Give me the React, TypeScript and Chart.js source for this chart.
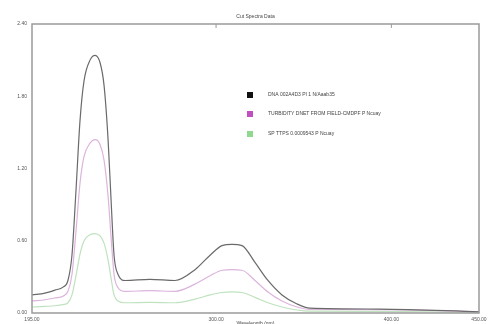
import React, { useEffect, useRef } from "react";
import { Chart, registerables } from "chart.js";

Chart.register(...registerables);

const TITLE = "Cut Spectra Data";
const X_TITLE = "Wavelength (nm)";
const X_MIN = 195;
const X_MAX = 450;
const X_TICKS = [195, 300, 400, 450];
const Y_TICKS = [0, 0.6, 1.2, 1.8, 2.4];

const SERIES_LABELS = [
  "DNA 002A4D3 PI 1 N/Aaab35",
  "TURBIDITY DNET FROM FIELD-CMDPF P Ncuay",
  "SP TTPS 0.0009543 P Ncuay",
];

const WAVELENGTHS = [
  195, 202.4, 208.1, 212.7, 215.5, 217.8, 220.1, 222.4, 224.7, 228.1, 231, 233.8,
  236.1, 238.4, 240.1, 241.8, 244.1, 248.1, 262.3, 276.6, 288, 296.6, 303.4, 309.1,
  314.8, 322.2, 329.6, 337.6, 346.2, 353.6, 393.5, 450,
];

const BLACK_VALUES = [
  0.15, 0.165, 0.19, 0.215, 0.27, 0.48, 1.02, 1.6, 1.93, 2.1, 2.14, 2.08, 1.89,
  1.44, 0.94, 0.48, 0.32, 0.27, 0.28, 0.27, 0.36, 0.48, 0.56, 0.57, 0.56, 0.42,
  0.27, 0.15, 0.075, 0.04, 0.033, 0.01,
];
const MAGENTA_VALUES = [
  0.1, 0.11, 0.125, 0.14, 0.18, 0.32, 0.68, 1.08, 1.3, 1.41, 1.44, 1.4, 1.27,
  0.97, 0.63, 0.32, 0.21, 0.18, 0.185, 0.18, 0.24, 0.31, 0.355, 0.36, 0.355, 0.27,
  0.175, 0.1, 0.05, 0.03, 0.028, 0.01,
];
const GREEN_VALUES = [
  0.05, 0.055, 0.06, 0.07, 0.085, 0.15, 0.31, 0.49, 0.6, 0.65, 0.66, 0.64, 0.58,
  0.44, 0.29, 0.15, 0.1, 0.085, 0.088, 0.085, 0.115, 0.15, 0.17, 0.175, 0.17, 0.13,
  0.085, 0.05, 0.025, 0.015, 0.013, 0.005,
];

const LINE_COLORS = ["#6a6a6a", "#dcb4dc", "#bfe2bf"];
const MARKER_COLORS = ["#111111", "#c050c0", "#90d890"];

const FONT = "Liberation Sans, Arial, sans-serif";

const decorPlugin = {
  id: "decor",
  afterDraw(chart: any) {
    const { ctx, chartArea } = chart;
    ctx.save();
    ctx.strokeStyle = "#9a9a9a";
    ctx.lineWidth = 1.5;
    ctx.strokeRect(chartArea.left, chartArea.top, chartArea.right - chartArea.left, chartArea.bottom - chartArea.top);
    const xs = chart.scales.x;
    ctx.lineWidth = 1;
    X_TICKS.slice(1, 3).forEach((t) => {
      const px = xs.getPixelForValue(t);
      ctx.beginPath();
      ctx.moveTo(px, chartArea.top);
      ctx.lineTo(px, chartArea.top + 4);
      ctx.stroke();
    });
    ctx.fillStyle = "#444";
    ctx.font = `5px ${FONT}`;
    ctx.textAlign = "center";
    ctx.textBaseline = "middle";
    ctx.fillText(TITLE, (chartArea.left + chartArea.right) / 2, 17);
    ctx.fillText(X_TITLE, (chartArea.left + chartArea.right) / 2, 324);
    ctx.textAlign = "left";
    const lx = 250;
    const ly = [95, 114, 134];
    chart.data.datasets.forEach((ds: any, i: number) => {
      ctx.fillStyle = MARKER_COLORS[i];
      ctx.fillRect(lx - 3, ly[i] - 3, 6, 6);
      ctx.fillStyle = "#444";
      ctx.font = `5px ${FONT}`;
      ctx.fillText(ds.label, 268, ly[i]);
    });
    ctx.restore();
  },
};

export default function App() {
  const ref = useRef<HTMLCanvasElement>(null);
  useEffect(() => {
    document.body.style.margin = "0";
    const mk = (vals: number[]) => WAVELENGTHS.map((x, i) => ({ x, y: vals[i] }));
    const common = { borderWidth: 1.2, pointRadius: 0, cubicInterpolationMode: "monotone" as const };
    const chart = new Chart(ref.current!, {
      type: "line",
      data: {
        datasets: [
          { label: SERIES_LABELS[0], data: mk(BLACK_VALUES), borderColor: LINE_COLORS[0], ...common },
          { label: SERIES_LABELS[1], data: mk(MAGENTA_VALUES), borderColor: LINE_COLORS[1], ...common },
          { label: SERIES_LABELS[2], data: mk(GREEN_VALUES), borderColor: LINE_COLORS[2], ...common },
        ],
      },
      options: {
        animation: false,
        responsive: false,
        layout: { padding: { top: 24, right: 11, left: 0, bottom: 0 } },
        plugins: { legend: { display: false }, title: { display: false }, tooltip: { enabled: false } },
        scales: {
          x: {
            type: "linear",
            min: X_MIN,
            max: X_MAX,
            afterBuildTicks: (s: any) => { s.ticks = X_TICKS.map((v) => ({ value: v })); },
            afterFit: (s: any) => { s.height = 11; },
            grid: { display: false, drawTicks: true, tickLength: 3, color: "#9a9a9a" },
            border: { display: false },
            ticks: { font: { size: 5, family: FONT }, color: "#555", padding: 1, maxRotation: 0, callback: (v: any) => Number(v).toFixed(2) },
          },
          y: {
            min: 0,
            max: 2.4,
            afterBuildTicks: (s: any) => { s.ticks = Y_TICKS.map((v) => ({ value: v })); },
            afterFit: (s: any) => { s.width = 32; },
            grid: { display: false, drawTicks: true, tickLength: 3, color: "#9a9a9a" },
            border: { display: false },
            ticks: { font: { size: 5, family: FONT }, color: "#555", padding: 2, callback: (v: any) => Number(v).toFixed(2) },
          },
        },
      },
      plugins: [decorPlugin],
    });
    return () => chart.destroy();
  }, []);
  return <canvas ref={ref} width={490} height={324} style={{ display: "block" }} />;
}
